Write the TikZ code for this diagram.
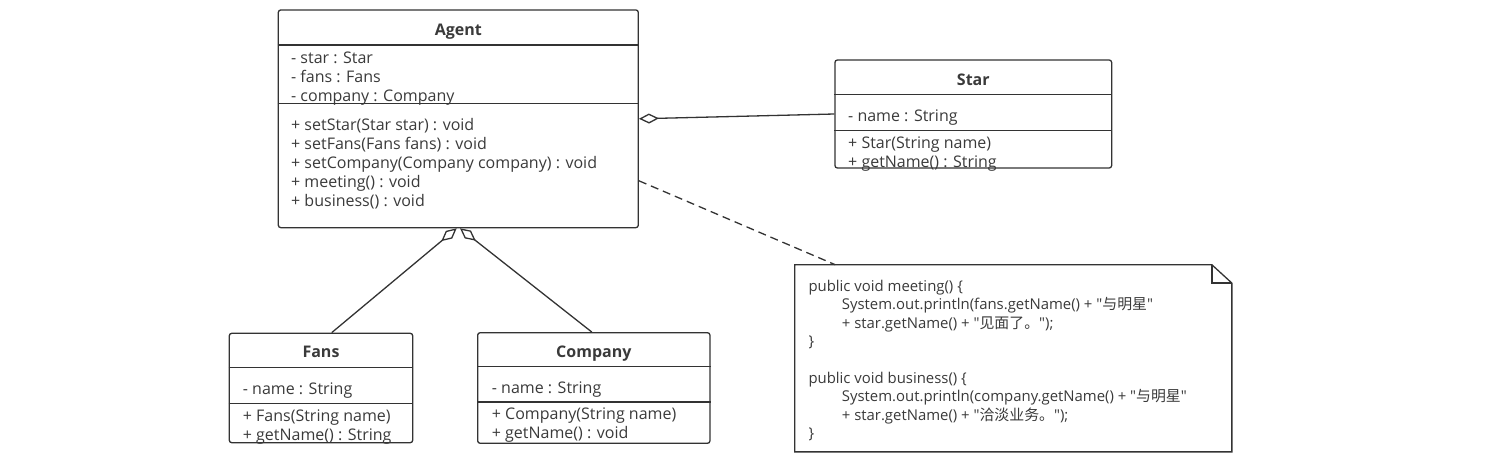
\documentclass[tikz,border=0pt]{standalone}
\usepackage{fontspec}
\setmainfont{Open Sans}[Ligatures=TeXOff]
\newfontfamily\cjk{Noto Sans CJK SC}
\usetikzlibrary{arrows.meta,positioning}
\definecolor{umlline}{HTML}{333333}
\definecolor{umltext}{HTML}{3A3A3A}
\tikzset{
  classbox/.style={draw=umlline, line width=1.3pt, rounded corners=2.5pt, inner sep=0pt},
  classname/.style={font=\fontsize{16}{19}\selectfont\bfseries, text=umltext, anchor=base, inner sep=0pt},
  members/.style={font=\fontsize{16}{19}\selectfont, text=umltext, align=left, anchor=base west, inner sep=0pt},
  notetext/.style={font=\fontsize{14.9}{18.4}\selectfont, text=umltext, align=left, anchor=base west, inner sep=0pt},
  divider/.style={draw=umlline, line width=1.3pt},
  aggregation/.style={draw=umlline, line width=1.3pt, {Diamond[open,length=20pt,width=10pt]}-},
  notelink/.style={draw=umlline, line width=1.3pt, dash pattern=on 8pt off 5pt},
}
\begin{document}
\begin{tikzpicture}[x=1pt,y=-1pt]
  \useasboundingbox (0,0) rectangle (1499,460);
  % classes
  \node[classbox, minimum width=360pt, minimum height=217.7pt] (agent) at (458.3,118.8) {};
  \node[classbox, minimum width=276.7pt, minimum height=108pt] (star) at (973.3,114) {};
  \node[classbox, minimum width=183.4pt, minimum height=109.4pt] (fans) at (321,388) {};
  \node[classbox, minimum width=232.3pt, minimum height=110.6pt] (company) at (593.8,388) {};
  \draw[divider] ([yshift=-35.7pt]agent.north west) -- ([yshift=-35.7pt]agent.north east);
  \draw[divider] ([yshift=-94pt]agent.north west) -- ([yshift=-94pt]agent.north east);
  \draw[divider] ([yshift=-35pt]star.north west) -- ([yshift=-35pt]star.north east);
  \draw[divider] ([yshift=-71pt]star.north west) -- ([yshift=-71pt]star.north east);
  \draw[divider] ([yshift=-35pt]fans.north west) -- ([yshift=-35pt]fans.north east);
  \draw[divider] ([yshift=-70.7pt]fans.north west) -- ([yshift=-70.7pt]fans.north east);
  \draw[divider] ([yshift=-34.6pt]company.north west) -- ([yshift=-34.6pt]company.north east);
  \draw[divider] ([yshift=-70pt]company.north west) -- ([yshift=-70pt]company.north east);
  % texts (multi-line nodes sit on their last baseline)
  \node[classname] (agentname) at (458.3,35.5) {Agent};
  \node[members] (agentattrs) at (291,101) {- star : Star\\- fans : Fans\\- company : Company};
  \node[members] (agentops) at (291,206) {+ setStar(Star star) : void\\+ setFans(Fans fans) : void\\+ setCompany(Company company) : void\\+ meeting() : void\\+ business() : void};
  \node[classname] (starname) at (973.3,85) {Star};
  \node[members] (starattrs) at (848,121.7) {- name : String};
  \node[members] (starops) at (848,167) {+ Star(String name)\\+ getName() : String};
  \node[classname] (fansname) at (321,357.3) {Fans};
  \node[members] (fansattrs) at (242.7,394) {- name : String};
  \node[members] (fansops) at (242.7,440) {+ Fans(String name)\\+ getName() : String};
  \node[classname] (companyname) at (593.8,357.3) {Company};
  \node[members] (companyattrs) at (491.7,393.3) {- name : String};
  \node[members] (companyops) at (491.7,438.5) {+ Company(String name)\\+ getName() : void};
  % note
  \node[minimum width=436.7pt, minimum height=186.7pt, inner sep=0pt] (note) at (1013.3,358.3) {};
  \draw[divider] (note.north west) -- ([xshift=-20pt]note.north east) -- ([yshift=-18.3pt]note.north east)
    -- (note.south east) -- (note.south west) -- cycle;
  \draw[divider] ([xshift=-20pt]note.north east) -- ([xshift=-20pt,yshift=-18.3pt]note.north east)
    -- ([yshift=-18.3pt]note.north east);
  \node[notetext] (notecode) at (808.3,438.5) {public void meeting() \{\\
    \hspace*{33.4pt}System.out.println(fans.getName() + "{\cjk 与明星}"\\
    \hspace*{33.4pt}+ star.getName() + "{\cjk 见面了。}");\\
    \}\\[18.4pt]
    public void business() \{\\
    \hspace*{33.4pt}System.out.println(company.getName() + "{\cjk 与明星}"\\
    \hspace*{33.4pt}+ star.getName() + "{\cjk 洽淡业务。}");\\
    \}};
  % connectors
  \draw[aggregation] (agent.east) -- (star.west);
  \draw[aggregation] ([xshift=-1.6pt]agent.south) -- ([xshift=10.7pt]fans.north);
  \draw[aggregation] ([xshift=1.7pt]agent.south) -- ([xshift=-2pt]company.north);
  \draw[notelink] ([yshift=-62pt]agent.east) -- ([xshift=-178pt]note.north);
\end{tikzpicture}
\end{document}
